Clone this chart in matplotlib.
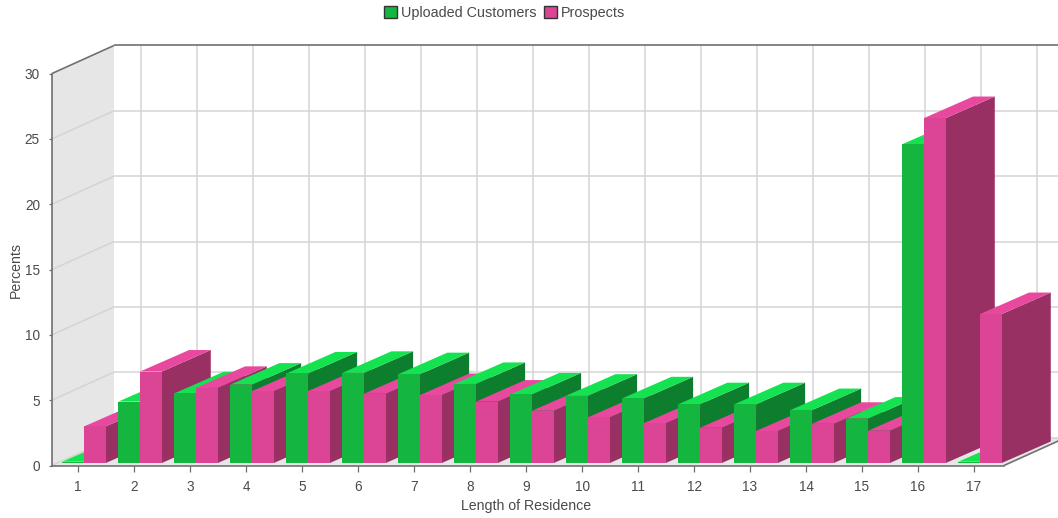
import matplotlib
matplotlib.use("Agg")
import matplotlib.pyplot as plt
from matplotlib.patches import Polygon, Patch

categories = [str(i) for i in range(1, 18)]
uploaded = [0.1, 4.7, 5.33, 6.0, 6.85, 6.9, 6.8, 6.05, 5.25, 5.15, 4.95, 4.5, 4.5, 4.05, 3.4, 24.4, 0.1]
prospects = [2.8, 7.0, 5.75, 5.5, 5.5, 5.3, 5.2, 4.7, 4.0, 3.5, 3.05, 2.7, 2.45, 3.0, 2.47, 26.4, 11.4]
y_ticks = [0, 5, 10, 15, 20, 25, 30]
series_names = ["Uploaded Customers", "Prospects"]

W, H = 1058, 518
LEFT, RIGHT, BOTTOM, TOP = 52, 1004, 465.5, 73.5
PX_X = 56.0
PX_Y = (BOTTOM - TOP) / 30.0

plt.rcParams["font.family"] = ["Liberation Sans", "DejaVu Sans"]
fig = plt.figure(figsize=(W / 100, H / 100), dpi=100)
ax = fig.add_axes([LEFT / W, 1 - BOTTOM / H, (RIGHT - LEFT) / W, (BOTTOM - TOP) / H])
ax.set_xlim(1 + (LEFT - 78) / PX_X, 1 + (RIGHT - 78) / PX_X)
ax.set_ylim(0, 30)
ax.patch.set_visible(False)

# Depth of the back wall and of each bar, in axis units
wall_dx, wall_dy = 62 / PX_X, 28 / PX_Y
bar_dx, bar_dy = 49 / PX_X, 21.5 / PX_Y
front_dy = 2.5 / PX_Y
bar_w = 21.7 / PX_X
x_edge = 1 + (W + 5 - 78) / PX_X
x0, x1 = ax.get_xlim()

GRID = "#d4d4d4"
WALL = "#e6e6e6"
DARK = "#707070"
TEXT = "#4a4a4a"


def poly(points, color, z=1):
    ax.add_patch(Polygon(points, closed=True, facecolor=color, edgecolor="none", clip_on=False, zorder=z))


def line(xs, ys, color, lw=1.1, z=1.5):
    ax.plot(xs, ys, color=color, lw=lw, clip_on=False, zorder=z, solid_capstyle="butt")


# Side wall and floor
poly([(x0, 0), (x0 + wall_dx, wall_dy), (x0 + wall_dx, 30 + wall_dy), (x0, 30)], WALL)
poly([(x0, 0), (x1, 0), (x1 + wall_dx, wall_dy), (x0 + wall_dx, wall_dy)], WALL)

# Grid on the back and side walls
for v in y_ticks[:-1]:
    line([x0 + wall_dx, x_edge], [v + wall_dy] * 2, GRID)
    line([x0, x0 + wall_dx], [v, v + wall_dy], GRID)
for i in range(len(categories)):
    gx = i + 1 + wall_dx + 1 / PX_X
    line([gx, gx], [wall_dy, 30 + wall_dy], GRID)

# Outline along the top and lower right edges
line([x0, x0 + wall_dx], [30, 30 + wall_dy], DARK, 1.2, 2)
line([x0 + wall_dx, x_edge], [30 + wall_dy] * 2, DARK, 1.2, 2)
line([x1, x1 + wall_dx], [0, wall_dy], DARK, 1.2, 2)


def bar3d(left, value, front, top, side, z):
    right = left + bar_w
    base = front_dy
    height = base + value
    poly([(right, base), (right + bar_dx, base + bar_dy), (right + bar_dx, height + bar_dy), (right, height)], side, z)
    poly([(left, height), (right, height), (right + bar_dx, height + bar_dy), (left + bar_dx, height + bar_dy)], top, z)
    poly([(left, base), (right, base), (right, height), (left, height)], front, z)


GREEN = ("#14b640", "#14e250", "#0c7e2d")
PINK = ("#dc4595", "#e8489e", "#993064")
z = 3.0
for i, (g, p) in enumerate(zip(uploaded, prospects)):
    start = i + 1 - 15.6 / PX_X
    bar3d(start, g, *GREEN, z)
    bar3d(start + bar_w, p, *PINK, z + 0.01)
    z += 0.02

for name in ("top", "right"):
    ax.spines[name].set_visible(False)
for name in ("left", "bottom"):
    ax.spines[name].set_color(DARK)
    ax.spines[name].set_linewidth(1.2)
    ax.spines[name].set_zorder(2)
ax.set_xticks(range(1, 18), categories)
ax.set_yticks(y_ticks)
ax.tick_params(axis="both", width=0.9, color=DARK, labelcolor=TEXT, labelsize=9.8)
ax.tick_params(axis="x", length=4.4, pad=6)
ax.tick_params(axis="y", length=2.2, pad=6.5)

fig.text(526 / W, 1 - 506 / H, "Length of Residence", ha="center", va="center", fontsize=10.2, color=TEXT)
fig.text(16 / W, 1 - 269.5 / H, "Percents", ha="center", va="center", rotation=90, fontsize=10.2, color=TEXT)

handles = [Patch(facecolor=GREEN[0], edgecolor="#333333", lw=1),
           Patch(facecolor=PINK[0], edgecolor="#333333", lw=1)]
fig.legend(handles, series_names, loc="center", bbox_to_anchor=(504.5 / W, 1 - 13 / H), ncol=2, frameon=False,
           fontsize=10.4, handlelength=0.9, handleheight=0.9, handletextpad=0.25, columnspacing=0.55,
           labelcolor=TEXT, borderpad=0)

fig.savefig("out.png", dpi=100)
